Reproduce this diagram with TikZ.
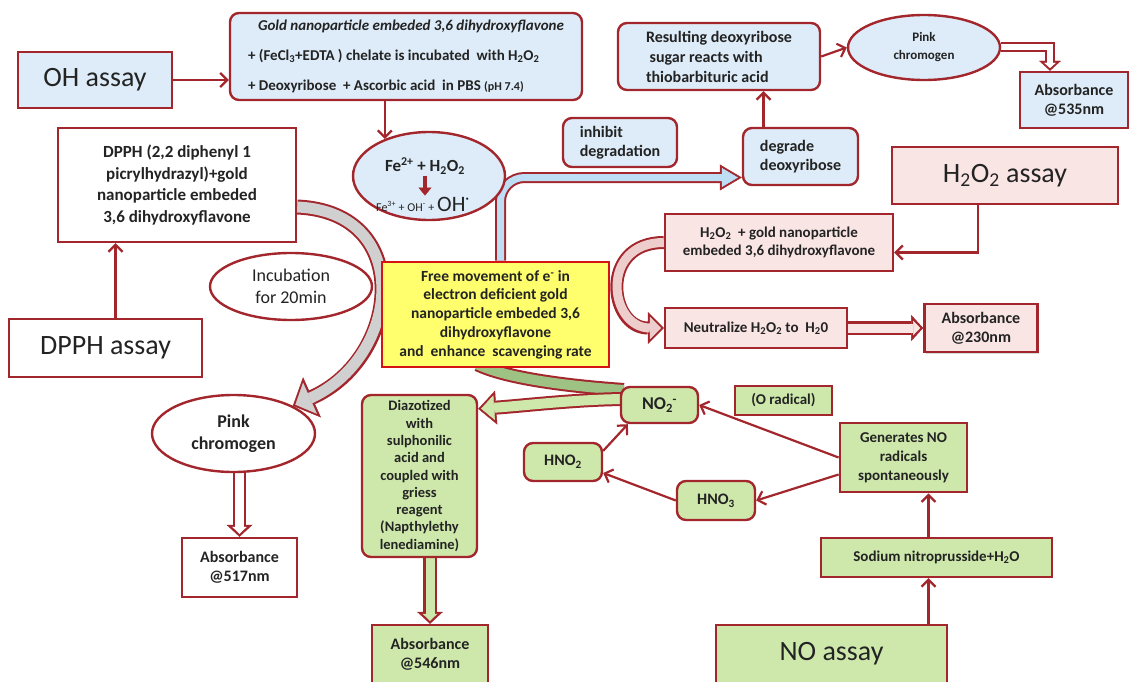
\documentclass[tikz,border=0pt]{standalone}
\usepackage{fontspec}
\setmainfont{Carlito}
\usetikzlibrary{arrows.meta,positioning,shapes.geometric,backgrounds,shadows}

\definecolor{bord}{RGB}{163,38,44}
\definecolor{txt}{RGB}{35,35,35}
\definecolor{lblue}{RGB}{221,236,248}
\definecolor{pinkf}{RGB}{250,229,229}
\definecolor{gfill}{RGB}{206,232,172}
\definecolor{yfill}{RGB}{255,255,110}
\definecolor{yred}{RGB}{215,20,20}
\definecolor{bluearr}{RGB}{190,222,246}
\definecolor{grayarr}{RGB}{208,208,208}
\definecolor{pinkarr}{RGB}{238,205,205}
\definecolor{dgreen}{RGB}{158,194,132}

\begin{document}
\begin{tikzpicture}[x=1pt, y=-1pt,
        box/.style={draw=bord, line width=2.4pt, text=txt, align=center, inner sep=2pt,
                    font=\fontsize{16}{19}\selectfont\bfseries},
        rbox/.style={box, rounded corners=9pt},
        assay/.style={box, font=\fontsize{28}{32}\selectfont},
        oval/.style={box, ellipse, inner sep=0pt},
        link/.style={draw=bord, line width=2.2pt, -{Straight Barb[length=7pt,width=14pt]}},
        fearr/.style={draw=bord, line width=4.5pt, -{Triangle[length=8pt,width=13pt,line width=0.4pt]}},
        hol/.style={line width=9pt, shorten >=3pt,
                    -{Triangle[length=7pt,width=14.5pt,line width=0.4pt]},
                    preaction={draw=bord, line width=13.5pt, shorten >=0pt,
                               -{Triangle[length=12pt,width=26pt,line width=0.4pt]}}},
        hol2/.style={line width=6pt, shorten >=2.7pt,
                    -{Triangle[length=5.3pt,width=11.7pt,line width=0.4pt]},
                    preaction={draw=bord, line width=10pt, shorten >=0pt,
                               -{Triangle[length=10pt,width=22pt,line width=0.4pt]}}},
        graysw/.style={grayarr, line width=11pt, shorten >=2.8pt,
                    -{Triangle[length=16pt,width=34pt,line width=0.4pt]},
                    preaction={draw=bord, line width=15pt, shorten >=0pt,
                               -{Triangle[length=21pt,width=44pt,line width=0.4pt]}}},
        pinksw/.style={pinkarr, line width=9pt, shorten >=2.8pt,
                    -{Triangle[length=11.2pt,width=22.4pt,line width=0.4pt]},
                    preaction={draw=bord, line width=13pt, shorten >=0pt,
                               -{Triangle[length=16pt,width=32pt,line width=0.4pt]}}},
        bluesw/.style={bluearr, line width=7pt, shorten >=3.9pt,
                    -{Triangle[length=16.1pt,width=19pt,line width=0.4pt]},
                    preaction={draw=bord, line width=11pt, shorten >=0pt,
                               -{Triangle[length=22pt,width=26pt,line width=0.4pt]}}},
        greensw/.style={gfill, line width=10pt, shorten >=2.9pt,
                    -{Triangle[length=13.1pt,width=24.7pt,line width=0.4pt]},
                    preaction={draw=bord, line width=14pt, shorten >=0pt,
                               -{Triangle[length=18pt,width=34pt,line width=0.4pt]}}},
        greenband/.style={dgreen, line width=10pt,
                    preaction={draw=bord, line width=14pt}}
    ]
    \useasboundingbox (0,0) rectangle (1129,682);

    % OH assay
    \node[assay, fill=lblue, minimum width=154pt, minimum height=56pt] (ohassay) at (95,80) {OH assay};
    \node[rbox, fill=lblue, align=left, minimum width=352pt, minimum height=87pt,
          font=\fontsize{15}{30}\selectfont\bfseries] (topbox) at (406,56.5)
        {\hspace*{10pt}\textit{Gold nanoparticle embeded 3,6 dihydroxyflavone}\\
         + (FeCl\textsubscript{3}+EDTA ) chelate is incubated\ \ with H\textsubscript{2}O\textsubscript{2}\\
         + Deoxyribose\ \ + Ascorbic acid\ \ in PBS {\fontsize{12}{14}\selectfont(pH 7.4)}};
    \node[oval, fill=lblue, minimum width=152pt, minimum height=88pt] (fe) at (429,176) {};
    \node[text=txt, inner sep=1pt, font=\fontsize{17}{19}\selectfont\bfseries] (fetop) at (425,166)
        {Fe\textsuperscript{2+} + H\textsubscript{2}O\textsubscript{2}};
    \node[text=txt, inner sep=1pt, font=\fontsize{22}{24}\selectfont] (febot) at (423,204)
        {{\fontsize{12}{14}\selectfont Fe\textsuperscript{3+} + OH\textsuperscript{-} + }OH\textsuperscript{·}};
    \node[rbox, fill=lblue, align=left, minimum width=114pt, minimum height=49pt] (inhibit) at (620,142.5) {inhibit\\degradation};
    \node[rbox, fill=lblue, align=left, minimum width=115pt, minimum height=57pt] (degrade) at (800.5,156.5) {degrade\\deoxyribose};
    \node[rbox, fill=lblue, align=left, minimum width=202pt, minimum height=67pt,
          font=\fontsize{16}{20}\selectfont\bfseries] (result) at (719,56.5)
        {Resulting deoxyribose\\\ sugar reacts with\\thiobarbituric acid};
    \node[oval, fill=lblue, minimum width=152pt, minimum height=65pt,
          font=\fontsize{13}{18}\selectfont\bfseries] (pinkA) at (924,47.5) {Pink\\chromogen};
    \node[box, fill=lblue, minimum width=108pt, minimum height=56pt] (abs535) at (1074,100) {Absorbance\\@535nm};

    % DPPH assay
    \node[box, fill=white, minimum width=238pt, minimum height=114pt,
          font=\fontsize{17}{21.5}\selectfont\bfseries] (dpphmix) at (177,185)
        {DPPH (2,2 diphenyl 1\\picrylhydrazyl)+gold\\nanoparticle embeded\\3,6 dihydroxyflavone};
    \node[assay, fill=white, minimum width=193pt, minimum height=58pt] (dpphassay) at (105.5,348) {DPPH assay};
    \node[oval, fill=white, minimum width=162pt, minimum height=67pt,
          font=\fontsize{18}{22}\selectfont] (incub) at (291,286.5) {Incubation\\for 20min};
    \node[oval, fill=white, minimum width=163pt, minimum height=77pt,
          font=\fontsize{18}{22}\selectfont\bfseries] (pinkB) at (233.5,433.5) {Pink\\chromogen};
    \node[box, fill=white, minimum width=115pt, minimum height=59pt] (abs517) at (239.5,567.5) {Absorbance\\@517nm};

    % centre
    \node[draw=yred, line width=2.8pt, fill=yfill, text=txt, align=center, minimum width=227pt,
          minimum height=105pt, font=\fontsize{15.5}{18.7}\selectfont\bfseries] (yellow) at (495.5,314.5)
        {Free movement of e\textsuperscript{-} in\\electron deficient gold\\nanoparticle embeded 3,6\\dihydroxyflavone\\and\ \ enhance\ \ scavenging rate};

    % H2O2 assay
    \node[assay, fill=pinkf, minimum width=226pt, minimum height=57pt] (h2o2assay) at (1005,175.5)
        {H\textsubscript{2}O\textsubscript{2} assay};
    \node[box, fill=pinkf, minimum width=228pt, minimum height=57pt,
          font=\fontsize{15}{18}\selectfont\bfseries] (h2o2mix) at (779,242.5)
        {H\textsubscript{2}O\textsubscript{2}\ \ + gold nanoparticle\\embeded 3,6 dihydroxyflavone};
    \node[box, fill=pinkf, minimum width=182pt, minimum height=40pt,
          font=\fontsize{15}{18}\selectfont\bfseries] (neutral) at (756,328)
        {Neutralize H\textsubscript{2}O\textsubscript{2} to\ \ H\textsubscript{2}0};
    \node[box, fill=pinkf, minimum width=113pt, minimum height=48pt, right=75pt of neutral,
          drop shadow={opacity=0.3, shadow xshift=2pt, shadow yshift=-2pt}] (abs230) {Absorbance\\@230nm};

    % NO assay
    \node[rbox, fill=gfill, minimum width=115pt, minimum height=162pt,
          font=\fontsize{14.5}{17.3}\selectfont\bfseries] (diaz) at (419.5,476)
        {Diazotized\\with\\sulphonilic\\acid and\\coupled with\\griess\\reagent\\(Napthylethy\\lenediamine)};
    \node[box, fill=gfill, minimum width=116pt, minimum height=58pt] (abs546) at (430,654) {Absorbance\\@546nm};
    \node[rbox, fill=gfill, minimum width=77pt, minimum height=36pt,
          font=\fontsize{18}{20}\selectfont\bfseries] (no2) at (659.5,405)
        {NO\textsubscript{2}\kern-0.5pt\textsuperscript{-}};
    \node[box, fill=gfill, line width=1.2pt, minimum width=97pt, minimum height=29pt,
          font=\fontsize{15}{18}\selectfont\bfseries] (orad) at (783.5,400.5) {(O radical)};
    \node[box, fill=gfill, line width=2.8pt, minimum width=127pt, minimum height=69pt,
          font=\fontsize{15}{19}\selectfont\bfseries] (gen) at (903.5,457.5)
        {Generates NO\\radicals\\spontaneously};
    \node[rbox, fill=gfill, minimum width=78pt, minimum height=38pt] (hno2) at (563,462) {HNO\textsubscript{2}};
    \node[rbox, fill=gfill, minimum width=78pt, minimum height=39pt] (hno3) at (716,500.5) {HNO\textsubscript{3}};
    \node[box, fill=gfill, minimum width=231pt, minimum height=39pt,
          font=\fontsize{15}{18}\selectfont\bfseries] (sodium) at (936.5,557.5)
        {Sodium nitroprusside+H\textsubscript{2}O};
    \node[assay, fill=gfill, minimum width=231pt, minimum height=58pt] (noassay) at (831.5,654) {NO assay};

    % plain arrows
    \draw[link] (ohassay.east) -- (ohassay.east -| topbox.west);
    \draw[link] (fe.140 |- topbox.south) -- (fe.140);
    \draw[fearr] (fetop.south) -- (fetop.south |- febot.north);
    \draw[link] ([xshift=10pt]dpphassay.north) -- ([xshift=10pt]dpphassay.north |- dpphmix.south);
    \draw[link] ([xshift=-37pt]degrade.north) -- ([xshift=-37pt]degrade.north |- result.south);
    \draw[link] (result.east) -- (pinkA.west);
    \draw[link] ([xshift=-27pt]h2o2assay.south) |- ([yshift=-10pt]h2o2mix.east);
    \draw[link] ([xshift=-8pt]sodium.south |- noassay.north) -- ([xshift=-8pt]sodium.south);
    \draw[link] ([xshift=-8pt]sodium.north) -- ([xshift=-8pt]sodium.north |- gen.south);
    \draw[link] (gen.west) -- (no2.east);
    \draw[link] ([yshift=-17pt]gen.west) -- (hno3.east);
    \draw[link] (hno3.west) -- ([yshift=-11pt]hno2.east);
    \draw[link] ([yshift=-9pt]hno2.north east) -- ([xshift=8pt]no2.south west);

    % block arrows behind the boxes
    \begin{scope}[on background layer]
        \draw[graysw] ([yshift=-22pt]dpphmix.east) .. controls +(118,5) and +(108,-48) .. (pinkB.25);
        \draw[pinksw] (h2o2mix.west) .. controls +(-65,0) and +(-55,0) .. (neutral.west);
        \draw[bluesw, rounded corners=24pt] ([xshift=5pt]yellow.north) |- ([yshift=-21pt]degrade.west);
        \draw[greenband] ([xshift=-18pt,yshift=4pt]yellow.south) .. controls +(25,12) and +(-70,-5) ..
            ([xshift=4pt,yshift=15pt]no2.west);
        \draw[greensw] ([xshift=9pt,yshift=6pt]no2.west) .. controls +(-50,0) and +(45,-3) ..
            ([yshift=-15pt]diaz.north east);
        \draw[hol, white] (abs517.north |- pinkB.south) -- (abs517.north);
        \draw[hol, gfill] (abs546.north |- diaz.south) -- (abs546.north);
        \draw[hol, pinkf] (neutral.east) -- (neutral.east -| abs230.west);
        \draw[hol2, white] (pinkA.east) -| ([xshift=-24pt]abs535.north);
    \end{scope}
\end{tikzpicture}
\end{document}
